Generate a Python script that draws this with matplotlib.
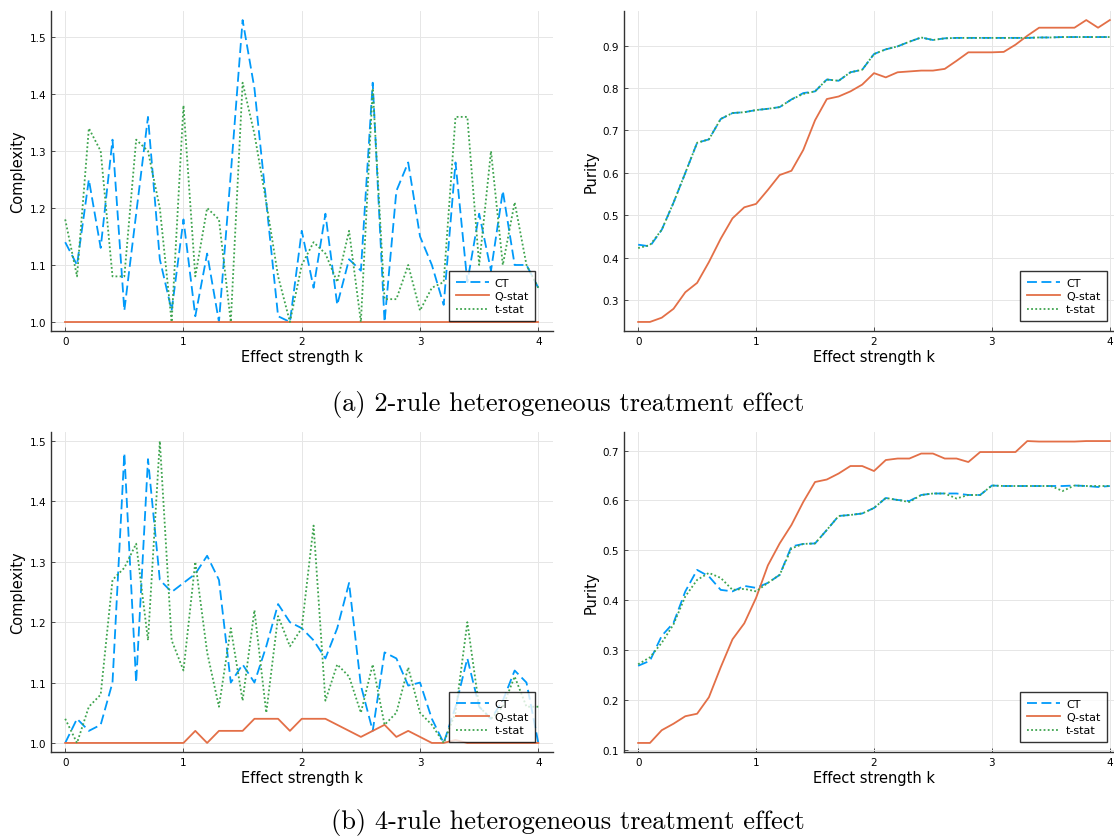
import matplotlib
matplotlib.use("Agg")
import matplotlib.pyplot as plt
import numpy as np

# effect strength grid
k = np.round(np.arange(0, 4.01, 0.1), 1)

# (a) 2-rule: complexity
ct_cx_a = [1.14, 1.10, 1.25, 1.13, 1.32, 1.02, 1.19, 1.36, 1.11, 1.02,
           1.18, 1.01, 1.12, 1.00, 1.26, 1.53, 1.41, 1.21, 1.01, 1.00,
           1.16, 1.06, 1.19, 1.03, 1.11, 1.09, 1.42, 1.00, 1.23, 1.28,
           1.15, 1.10, 1.03, 1.28, 1.07, 1.19, 1.09, 1.23, 1.10, 1.10,
           1.06]
q_cx_a = [1.0] * 41
t_cx_a = [1.18, 1.08, 1.34, 1.30, 1.08, 1.08, 1.32, 1.30, 1.20, 1.00,
          1.38, 1.08, 1.20, 1.18, 1.00, 1.42, 1.33, 1.21, 1.08, 1.00,
          1.10, 1.14, 1.12, 1.07, 1.16, 1.00, 1.41, 1.04, 1.04, 1.10,
          1.02, 1.06, 1.07, 1.36, 1.36, 1.10, 1.30, 1.10, 1.21, 1.10,
          1.06]

# (a) 2-rule: purity
ct_pu_a = [0.431, 0.427, 0.466, 0.530, 0.600, 0.671, 0.679, 0.727, 0.741, 0.743,
           0.748, 0.751, 0.755, 0.773, 0.788, 0.792, 0.820, 0.817, 0.837, 0.843,
           0.880, 0.891, 0.898, 0.909, 0.919, 0.913, 0.917, 0.918, 0.918, 0.918,
           0.918, 0.918, 0.918, 0.918, 0.919, 0.919, 0.920, 0.920, 0.920, 0.920,
           0.920]
q_pu_a = [0.249, 0.249, 0.259, 0.280, 0.319, 0.341, 0.390, 0.445, 0.493, 0.519,
          0.527, 0.560, 0.595, 0.605, 0.654, 0.724, 0.774, 0.780, 0.792, 0.808,
          0.835, 0.825, 0.837, 0.839, 0.841, 0.841, 0.845, 0.864, 0.884, 0.884,
          0.884, 0.885, 0.902, 0.923, 0.942, 0.942, 0.942, 0.942, 0.960, 0.942,
          0.960]
t_pu_a = [0.423, 0.430, 0.466, 0.530, 0.600, 0.671, 0.679, 0.727, 0.741, 0.743,
          0.748, 0.751, 0.755, 0.773, 0.786, 0.792, 0.820, 0.817, 0.837, 0.843,
          0.880, 0.891, 0.898, 0.909, 0.919, 0.913, 0.917, 0.918, 0.918, 0.918,
          0.918, 0.918, 0.918, 0.918, 0.919, 0.919, 0.920, 0.920, 0.920, 0.920,
          0.920]

# (b) 4-rule: complexity
ct_cx_b = [1.00, 1.04, 1.02, 1.03, 1.10, 1.48, 1.10, 1.47, 1.27, 1.25,
           1.265, 1.28, 1.31, 1.27, 1.10, 1.13, 1.10, 1.16, 1.23, 1.20,
           1.19, 1.17, 1.14, 1.19, 1.265, 1.095, 1.02, 1.15, 1.14, 1.095,
           1.10, 1.04, 1.00, 1.06, 1.14, 1.06, 1.04, 1.07, 1.12, 1.10,
           1.00]
q_cx_b = [1.00, 1.00, 1.00, 1.00, 1.00, 1.00, 1.00, 1.00, 1.00, 1.00,
          1.00, 1.02, 1.00, 1.02, 1.02, 1.02, 1.04, 1.04, 1.04, 1.02,
          1.04, 1.04, 1.04, 1.03, 1.02, 1.01, 1.02, 1.03, 1.01, 1.02,
          1.01, 1.00, 1.00, 1.005, 1.00, 1.00, 1.00, 1.00, 1.00, 1.00,
          1.00]
t_cx_b = [1.04, 1.00, 1.06, 1.08, 1.27, 1.29, 1.33, 1.17, 1.50, 1.17,
          1.12, 1.30, 1.15, 1.06, 1.19, 1.07, 1.22, 1.05, 1.21, 1.16,
          1.19, 1.36, 1.07, 1.13, 1.11, 1.05, 1.13, 1.03, 1.05, 1.125,
          1.05, 1.03, 1.00, 1.05, 1.20, 1.06, 1.04, 1.06, 1.11, 1.06,
          1.06]

# (b) 4-rule: purity
ct_pu_b = [0.269, 0.279, 0.329, 0.355, 0.418, 0.461, 0.448, 0.421, 0.418, 0.429,
           0.425, 0.435, 0.451, 0.508, 0.513, 0.514, 0.541, 0.569, 0.571, 0.574,
           0.585, 0.605, 0.601, 0.599, 0.611, 0.614, 0.614, 0.614, 0.611, 0.611,
           0.630, 0.629, 0.629, 0.629, 0.629, 0.629, 0.629, 0.630, 0.629, 0.627,
           0.629]
q_pu_b = [0.1145, 0.1145, 0.140, 0.153, 0.168, 0.173, 0.206, 0.266, 0.322, 0.354,
          0.405, 0.470, 0.514, 0.551, 0.597, 0.637, 0.642, 0.654, 0.669, 0.669,
          0.659, 0.681, 0.684, 0.684, 0.694, 0.694, 0.684, 0.684, 0.677, 0.697,
          0.697, 0.697, 0.697, 0.719, 0.718, 0.718, 0.718, 0.718, 0.719, 0.719,
          0.719]
t_pu_b = [0.272, 0.286, 0.315, 0.352, 0.408, 0.441, 0.455, 0.445, 0.421, 0.423,
          0.418, 0.435, 0.451, 0.504, 0.513, 0.514, 0.541, 0.569, 0.571, 0.574,
          0.585, 0.605, 0.601, 0.597, 0.611, 0.614, 0.614, 0.604, 0.611, 0.611,
          0.630, 0.629, 0.629, 0.629, 0.629, 0.629, 0.619, 0.630, 0.629, 0.629,
          0.629]

blue = "#009AFA"
orange = "#E36F47"
green = "#3EA44E"

fig = plt.figure(figsize=(11.14, 8.37), dpi=100)
W, H = 1114.0, 837.0

def make_ax(left, top, right, bottom):
    return fig.add_axes([left / W, 1 - bottom / H, (right - left) / W, (bottom - top) / H])

ax_tl = make_ax(51, 12, 552.5, 332)
ax_tr = make_ax(624, 12, 1124, 332)
ax_bl = make_ax(51, 433, 552.5, 753)
ax_br = make_ax(624, 433, 1124, 753)

def draw(ax, ct, q, t, ylabel, yticks):
    ax.plot(k, ct, color=blue, lw=1.3, dashes=(5.5, 2.5), label="CT")
    ax.plot(k, q, color=orange, lw=1.3, label="Q-stat")
    ax.plot(k, t, color=green, lw=1.3, dashes=(1, 1.3), label="t-stat")
    ax.margins(x=0.03, y=0.03)
    ax.set_xticks([0, 1, 2, 3, 4])
    ax.set_yticks(yticks)
    ax.grid(True, color="#e6e6e6", lw=0.7)
    ax.set_axisbelow(True)
    for s in ["top", "right"]:
        ax.spines[s].set_visible(False)
    for s in ["left", "bottom"]:
        ax.spines[s].set_color("#333333")
        ax.spines[s].set_linewidth(1.0)
    ax.tick_params(direction="in", length=3, width=0.6, labelsize=7.5,
                   colors="#333333", labelcolor="black")
    ax.set_xlabel("Effect strength k", fontsize=10.5, labelpad=2)
    ax.set_ylabel(ylabel, fontsize=10.5, labelpad=3)
    leg = ax.legend(loc="lower right", bbox_to_anchor=(0.966, 0.031), borderaxespad=0,
                    fontsize=8, frameon=True, fancybox=False, edgecolor="black",
                    handlelength=3.0, handletextpad=0.5, labelspacing=0.3,
                    borderpad=0.6)
    leg.get_frame().set_linewidth(1.0)

draw(ax_tl, ct_cx_a, q_cx_a, t_cx_a, "Complexity", [1.0, 1.1, 1.2, 1.3, 1.4, 1.5])
draw(ax_tr, ct_pu_a, q_pu_a, t_pu_a, "Purity", [0.3, 0.4, 0.5, 0.6, 0.7, 0.8, 0.9])
draw(ax_bl, ct_cx_b, q_cx_b, t_cx_b, "Complexity", [1.0, 1.1, 1.2, 1.3, 1.4, 1.5])
draw(ax_br, ct_pu_b, q_pu_b, t_pu_b, "Purity", [0.1, 0.2, 0.3, 0.4, 0.5, 0.6, 0.7])

fig.text(568 / W, 1 - 405 / H, "(a) 2-rule heterogeneous treatment effect",
         family="cmr10", fontsize=19, ha="center", va="center")
fig.text(568 / W, 1 - 823 / H, "(b) 4-rule heterogeneous treatment effect",
         family="cmr10", fontsize=19, ha="center", va="center")

fig.savefig("out.png", dpi=100)
